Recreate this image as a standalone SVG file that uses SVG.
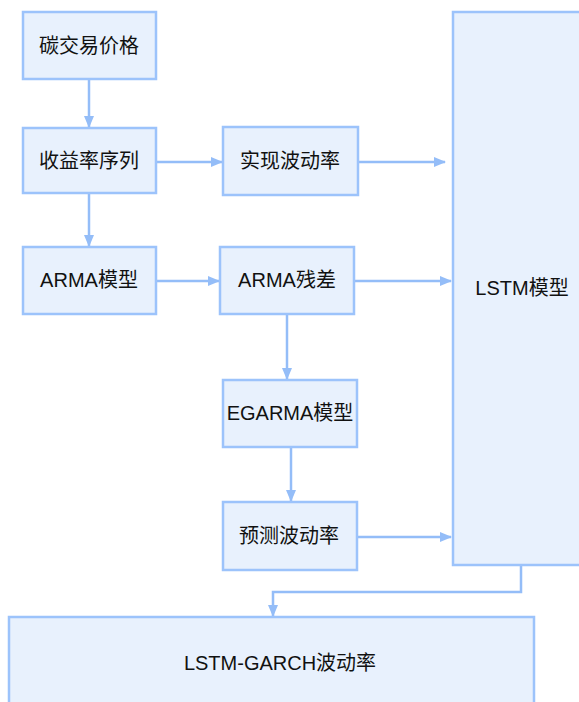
<svg xmlns="http://www.w3.org/2000/svg" width="579" height="702" viewBox="0 0 579 702">
<style>
.box{fill:#e8f1fd;stroke:#9cc3fb;stroke-width:2.5}
.t{font-family:"Liberation Sans","Noto Sans CJK SC",sans-serif;font-size:20px;fill:#111;text-anchor:middle;dominant-baseline:central}
.c{fill:none;stroke:#94bdf8;stroke-width:2.5}
</style>
<defs>
<marker id="ah" markerWidth="12" markerHeight="10" refX="11" refY="5" orient="auto" markerUnits="userSpaceOnUse">
<path d="M0,0 L12,5 L0,10 Z" fill="#94bdf8"/>
</marker>
</defs>
<rect width="579" height="702" fill="#fff"/>
<g id="connectors">
<line class="c" x1="89" y1="79" x2="89" y2="127" marker-end="url(#ah)"/>
<line class="c" x1="156" y1="162" x2="222" y2="162" marker-end="url(#ah)"/>
<line class="c" x1="358" y1="162" x2="445" y2="162" marker-end="url(#ah)"/>
<line class="c" x1="89" y1="193" x2="89" y2="246" marker-end="url(#ah)"/>
<line class="c" x1="156" y1="281" x2="219" y2="281" marker-end="url(#ah)"/>
<line class="c" x1="354" y1="281" x2="451" y2="281" marker-end="url(#ah)"/>
<line class="c" x1="287" y1="314" x2="287" y2="379" marker-end="url(#ah)"/>
<line class="c" x1="291" y1="447" x2="291" y2="501" marker-end="url(#ah)"/>
<line class="c" x1="357" y1="537" x2="451" y2="537" marker-end="url(#ah)"/>
<polyline class="c" points="521,566 521,592 273,592 273,616" marker-end="url(#ah)"/>
</g>
<g id="n1"><rect class="box" x="23" y="12" width="133" height="67"/><text class="t" x="89" y="46">碳交易价格</text></g>
<g id="n2"><rect class="box" x="23" y="128" width="133" height="65"/><text class="t" x="89" y="161">收益率序列</text></g>
<g id="n3"><rect class="box" x="223" y="127" width="135" height="68"/><text class="t" x="290" y="161">实现波动率</text></g>
<g id="n4"><rect class="box" x="23" y="247" width="133" height="67"/><text class="t" x="89" y="280">ARMA模型</text></g>
<g id="n5"><rect class="box" x="220" y="247" width="134" height="67"/><text class="t" x="287" y="280">ARMA残差</text></g>
<g id="n6"><rect class="box" x="223" y="380" width="134" height="67"/><text class="t" x="290" y="413">EGARMA模型</text></g>
<g id="n7"><rect class="box" x="223" y="502" width="134" height="68"/><text class="t" x="289" y="536">预测波动率</text></g>
<g id="n8"><rect class="box" x="453" y="12" width="140" height="553"/><text class="t" x="522" y="288">LSTM模型</text></g>
<g id="n9"><rect class="box" x="9" y="617" width="525" height="100"/><text class="t" x="280" y="663">LSTM-GARCH波动率</text></g>
</svg>
